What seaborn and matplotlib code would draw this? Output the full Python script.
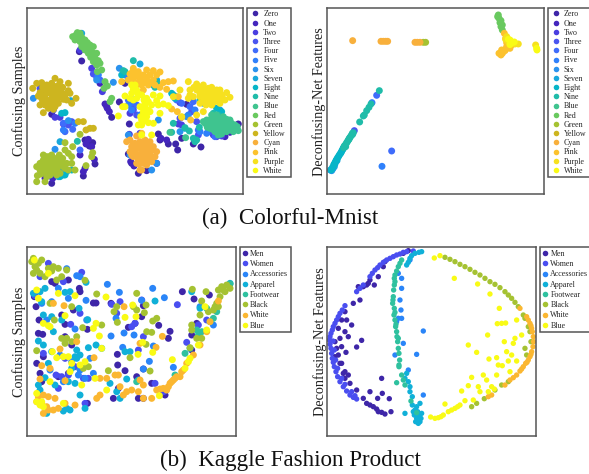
import pandas as pd
import matplotlib
matplotlib.use('Agg')
import matplotlib.pyplot as plt
import seaborn as sns

sns.set_style('white')
plt.rcParams['font.family'] = ['Liberation Serif', 'DejaVu Serif']

# label names
mnist_labels = ['Zero', 'One', 'Two', 'Three', 'Four', 'Five', 'Six', 'Seven', 'Eight', 'Nine',
                'Blue', 'Red', 'Green', 'Yellow', 'Cyan', 'Pink', 'Purple', 'White']
fashion_labels = ['Men', 'Women', 'Accessories', 'Apparel', 'Footwear', 'Black', 'White', 'Blue']

mnist_colors = ['#3e26a8', '#4426bd', '#4a3fe0', '#4a55f0', '#3f6cfb', '#2f80fb', '#2a92ee', '#18a8dc',
                '#06b5c8', '#1fbca9', '#3fc48f', '#69c95f', '#a5c232', '#cdb51f', '#f8b03c', '#fcc22e',
                '#f6e11f', '#f9fb15']
fashion_colors = ['#3e26a8', '#4a4ef0', '#2a85f8', '#10b0d8', '#2fc19f', '#a5c232', '#fbb731', '#f9fb15']

# values, one list per label
# panel a, confusing samples
a1_zero = [(155,343),(245,183),(238,155),(320,320),(335,352),(358,306),(375,250),(388,372),(395,490),(415,520),
           (440,512),(385,462),(480,420),(505,432),(533,450),(527,432),(545,415),(580,432),(603,441),(715,372),
           (560,313),(475,402),(155,550),(250,528),(285,492),(272,430),(262,425),(268,438),(278,428),(255,420)]
a1_one = [(265,418),(275,440),(258,432),(283,478),(250,515),(255,505),(315,312),(322,325),(328,335),(392,485),
          (402,498),(470,490),(483,415),(500,420),(675,410),(690,397),(135,535),(158,535),(240,465),(300,250)]
a1_two = [(165,352),(180,352),(190,372),(240,150),(275,205),(307,275),(545,375),(535,372),(420,400),(640,405),
          (650,410),(665,408),(540,308),(388,403),(390,340),(395,320),(130,262)]
a1_three = [(120,265),(130,280),(215,365),(205,375),(160,330),(280,222),(575,335),(590,365),(598,395),(595,405),
            (400,330),(410,345),(650,400),(630,395),(540,355)]
a1_four = [(190,370),(218,388),(195,395),(240,450),(290,232),(300,240),(570,320),(580,305),(595,390),(545,310),
           (530,300),(385,300),(395,310),(410,315),(645,410),(660,405),(625,385)]
a1_five = [(225,370),(190,390),(295,225),(565,345),(585,330),(385,315),(395,330),(420,345),(620,400),(655,395),
           (600,395),(385,240),(375,225)]
a1_six = [(100,295),(165,448),(205,362),(340,247),(358,205),(385,405),(540,395),(290,240),(475,360),(455,510),
          (390,465),(610,310),(470,490),(560,350)]
a1_seven = [(212,302),(180,425),(420,192),(245,100),(190,525),(175,530),(165,520),(185,510),(200,515),(555,385),
            (610,300),(660,330),(470,240),(520,285),(400,300)]
a1_eight = [(195,338),(185,340),(365,225),(460,255),(465,250),(595,265),(180,530),(195,525),(170,515),(150,525),
            (600,300),(650,325),(665,335),(515,280),(525,295),(215,510)]
a1_nine = [(400,182),(370,212),(232,424),(375,215),(520,370),(555,383),(568,393),(598,382),(590,420),(585,425),
           (465,262),(470,248),(640,340),(655,345),(527,290),(580,415),(515,397)]
a1_blue = [(620,360),(635,355),(650,345),(670,350),(690,360),(705,375),(715,392),(700,385),(685,370),(660,360),
           (640,370),(625,375),(615,370),(630,385),(645,380),(660,375),(675,385),(690,380),(700,395),(680,395),
           (660,390),(645,395),(665,402),(650,362),(635,345),(610,365),(670,365),(712,380),(557,413),(510,397),
           (628,365),(642,362),(655,352),(680,358),(695,370),(652,372),(668,378),(682,378),(638,388),(652,388),
           (622,382),(672,392),(690,390),(655,405)]
a1_red = [(218,110),(228,105),(240,100),(235,115),(245,112),(225,120),(240,125),(255,120),(250,135),(262,128),
          (270,135),(245,140),(255,150),(270,145),(280,140),(265,160),(278,158),(290,160),(272,172),(285,175),
          (295,182),(280,185),(290,195),(300,190),(292,215),(305,210),(315,245),(322,258),(312,265),(335,295),
          (330,305),(240,108),(232,98),(250,128),(260,140),(275,165)]
a1_green = [(195,428),(218,440),(195,450),(205,460),(215,470),(278,458),(275,470),(258,497),(240,403),(112,527),
            (110,545),(135,545),(120,490),(130,480),(140,470),(155,465),(170,475),(185,480),(200,490),(215,490),
            (225,510),(205,510),(190,500),(175,495),(160,490),(145,490),(130,500),(120,510),(135,515),(150,510),
            (165,510),(180,520),(150,525),(140,530),(160,480),(178,465),(130,465),(145,505),(170,525),(110,500),
            (125,495),(138,485),(152,478),(168,488),(182,492),(195,505),(158,500),(142,498),(128,508),(172,505),
            (155,518),(122,522),(188,475),(148,470)]
a1_yellow = [(235,365),(250,365),(258,390),(270,385),(280,385),(228,295),(215,310),(130,338),(98,265),(110,250),
             (125,248),(140,255),(155,250),(165,235),(180,245),(205,250),(205,272),(195,285),(180,270),(165,265),
             (150,265),(135,270),(120,278),(135,285),(150,280),(165,285),(180,290),(170,300),(155,295),(140,300),
             (125,295),(120,315),(135,315),(150,315),(165,320),(145,325),(200,300),(210,280),(160,310),(115,288),
             (142,262),(158,258),(172,258),(188,262),(128,262),(142,278),(158,272),(172,278),(188,280),(128,305),
             (142,308),(158,302),(175,310),(190,298),(160,328)]
a1_cyan = [(390,420),(405,430),(420,425),(435,420),(450,425),(460,440),(470,455),(465,470),(450,465),(435,450),
           (420,445),(405,450),(395,440),(390,455),(400,470),(415,465),(430,470),(445,480),(430,490),(415,480),
           (440,495),(425,510),(410,490),(455,485),(445,440),(420,510),(430,460),(410,408),(395,465),(380,425),
           (412,438),(428,435),(442,430),(455,452),(442,458),(425,448),(408,460),(422,475),(438,472),(455,472),
           (400,432),(432,480),(418,492)]
a1_pink = [(400,205),(415,215),(440,210),(460,212),(480,216),(470,225),(450,225),(430,225),(410,228),(390,222),
           (385,240),(400,240),(420,240),(440,240),(460,240),(445,255),(425,255),(410,255),(465,255),(430,270),
           (365,245),(505,245),(520,243),(480,262),(500,268),(490,248),(535,290),(515,327),(532,335),(545,352),
           (572,360),(425,400),(398,215),(420,232),(440,232),(430,245),(415,248),(450,248),(395,232),(405,222)]
a1_purple = [(565,245),(590,252),(610,255),(635,262),(650,270),(665,285),(680,278),(690,292),(675,300),(655,295),
             (640,285),(625,280),(605,272),(590,270),(570,270),(565,295),(580,290),(600,290),(615,295),(630,300),
             (645,305),(660,310),(635,315),(618,315),(600,310),(610,335),(590,345),(545,350),(520,290),(540,270),
             (650,288),(625,265),(600,282),(570,285),(660,270),(582,262),(598,262),(615,268),(632,272),(642,275),
             (655,282),(608,285),(622,290),(638,295),(650,300),(610,305),(625,308),(668,295)]
a1_white = [(355,348),(368,320),(375,288),(395,255),(410,270),(395,280),(410,295),(425,285),(440,295),(460,285),
            (480,288),(490,312),(475,315),(455,315),(435,315),(420,320),(430,335),(450,335),(480,340),(440,350),
            (425,360),(415,375),(425,375),(445,368),(460,370),(455,405),(425,405),(375,320),(400,300),(435,310),
            (390,295),(470,302),(405,255),(445,330),(430,345),(505,317),(400,268),(415,282),(432,300),(445,305),
            (435,325),(422,350),(432,362),(440,340)]

# panel a, deconfusing features
a2_zero = []
a2_one = []
a2_two = []
a2_three = [(178,392)]
a2_four = [(245,286),(290,453),(145,445)]
a2_five = [(261,499),(231,308)]
a2_six = [(110,512),(106,510),(114,505)]
a2_seven = [(112,508),(118,500),(120,492),(126,482)]
a2_eight = [(116,495),(120,488),(124,480),(128,473),(133,465),(138,458),(142,450),(112,503),(108,510),(146,443),
            (118,492),(122,484),(126,477),(131,469),(136,461),(140,454),(144,447)]
a2_nine = [(253,272),(228,312),(222,322),(215,332),(208,345),(205,348),(194,366),(175,398),(170,405),(165,412),
           (160,420),(155,428),(150,436),(146,443),(152,440),(172,400),(162,418),(168,408),(158,424),(148,438),
           (173,403),(163,415),(153,432)]
a2_blue = []
a2_red = [(610,45),(612,55),(615,68),(618,80),(622,90),(608,50),(618,62),(622,75)]
a2_green = [(385,127),(392,127)]
a2_yellow = []
a2_cyan = [(173,122),(258,124),(265,124),(272,124),(278,124),(360,127),(367,127),(375,127)]
a2_pink = [(618,165),(625,155),(632,148),(640,142),(650,135),(628,100),(632,115),(635,128),(640,135),(612,160),
           (622,160),(630,152),(620,150),(635,140),(645,145)]
a2_purple = [(635,110),(640,125),(650,130),(660,132),(670,132),(722,135),(632,118)]
a2_white = [(645,120),(652,128),(725,145),(726,150),(640,118),(645,134),(658,126)]

# panel b, confusing samples
b1_men = [(103,185),(108,215),(117,255),(115,295),(128,298),(110,385),(130,365),(155,140),(165,145),(205,135),
          (238,160),(240,170),(185,240),(195,268),(220,225),(262,283),(280,204),(288,204),(333,205),(430,212),
          (425,245),(385,277),(405,265),(476,271),(510,289),(505,310),(352,358),(353,390),(375,407),(410,425),
          (430,402),(415,490),(430,490),(455,445),(495,480),(547,170),(582,192),(628,180),(590,265),(575,300),
          (575,345),(215,330),(195,305),(125,440),(120,415),(262,505),(340,490),(355,460),(175,425),(205,415)]
b1_women = [(245,112),(190,140),(240,235),(212,268),(335,208),(360,200),(425,195),(532,209),(405,265),(395,275),
            (350,235),(560,322),(415,345),(430,305),(130,355),(185,425),(175,460),(255,505),(250,430),(265,430),
            (225,395),(195,370),(168,420),(205,420),(120,125),(145,85),(465,445),(490,470),(620,255),(105,182),(595,270)]
b1_accessories = [(322,148),(200,101),(230,122),(240,125),(205,190),(258,196),(358,172),(458,160),(493,188),(425,196),
                  (348,250),(333,303),(372,294),(402,300),(368,337),(448,379),(430,402),(280,415),(255,430),(270,370),
                  (240,405),(215,380),(150,405),(180,360),(125,205),(155,200),(225,282),(520,397),(460,333),(600,215),
                  (640,270),(175,160),(140,255),(260,255),(235,420),(190,440)]
b1_apparel = [(120,170),(135,160),(125,200),(237,220),(130,240),(160,290),(115,318),(130,330),(155,350),(145,385),
              (115,450),(135,428),(230,370),(240,360),(265,338),(288,330),(305,340),(375,350),(390,350),(380,432),
              (330,445),(350,470),(360,490),(415,435),(465,198),(600,220),(255,520),(210,525),(190,528),(140,535),
              (205,440),(225,445),(240,480),(120,465),(165,450),(263,254),(155,245),(185,255),(195,172),(258,142),
              (230,345),(575,170),(210,170),(100,175),(690,145),(200,520),(225,365),(215,400)]
b1_footwear = [(590,285),(605,290),(595,300),(410,440),(630,260),(640,250),(525,420),(555,355),(620,220),(570,340),
               (650,230),(690,147)]
b1_black = [(100,70),(95,80),(105,95),(115,85),(125,75),(100,115),(120,115),(145,100),(160,95),(175,100),
            (185,125),(170,135),(200,105),(655,165),(665,155),(680,150),(690,160),(675,170),(660,185),(650,205),
            (640,225),(655,215),(625,230),(605,198),(618,170),(577,163),(600,240),(185,310),(200,310),(215,320),
            (195,325),(290,177),(410,175),(350,215),(342,230),(352,262),(410,225),(400,215),(438,210),(433,233),
            (458,258),(470,250),(440,290),(455,292),(438,328),(390,368),(325,407),(450,408),(110,347),(255,136),
            (215,215),(150,205),(265,395),(250,400),(305,270),(248,278),(230,305),(163,255),(575,285),(575,270),
            (570,338),(590,310),(605,310),(670,165),(645,215),(110,105),(135,125),(155,108)]
b1_white = [(115,485),(130,480),(145,485),(165,490),(125,505),(140,515),(110,500),(130,535),(145,525),(160,525),
            (175,520),(195,505),(225,510),(290,490),(300,480),(320,430),(345,420),(355,420),(360,455),(380,470),
            (395,465),(420,435),(430,450),(415,470),(430,490),(455,490),(470,465),(490,460),(510,445),(520,435),
            (530,425),(545,410),(560,385),(580,360),(600,330),(620,290),(630,260),(655,198),(192,212),(160,205),
            (420,325),(468,337),(487,304),(372,215),(230,320),(180,342),(150,400),(125,392),(120,432),(282,368),
            (195,437),(370,480),(300,430),(505,455),(515,440),(500,465),(525,430),(540,425),(550,405),(480,462)]
b1_blue = [(103,75),(145,115),(110,165),(115,190),(225,182),(318,186),(398,210),(375,247),(408,245),(288,265),
           (298,303),(305,340),(145,272),(130,265),(195,242),(157,350),(170,368),(205,365),(215,385),(255,380),
           (240,390),(190,365),(210,410),(150,440),(285,430),(320,465),(414,358),(458,352),(517,374),(428,322),
           (190,505),(120,510),(125,500),(110,500),(245,450),(110,475),(478,482),(565,380),(555,400),(595,330),
           (620,285),(615,215),(175,175),(150,275),(280,280),(130,515),(570,370)]

# panel b, deconfusing features
b2_men = [(340,47),(325,55),(270,80),(265,95),(250,125),(238,150),(220,145),(205,155),(190,155),(195,195),
          (175,205),(150,230),(140,255),(170,270),(155,255),(130,280),(150,290),(135,310),(160,305),(200,316),
          (185,336),(153,352),(125,340),(120,365),(140,385),(150,410),(160,420),(165,445),(185,465),(260,430),
          (225,470),(262,475),(248,490),(283,491),(205,490),(215,505),(235,515),(250,530),(270,537),(288,530),
          (150,430),(145,415),(130,360),(120,320),(215,150),(225,135),(140,335),(135,385),(225,510),(245,522),(260,532)]
b2_women = [(355,48),(335,50),(315,57),(295,65),(275,75),(255,90),(240,105),(225,125),(205,150),(185,170),
            (150,212),(135,235),(125,255),(115,275),(108,295),(103,315),(108,340),(112,370),(118,395),(128,425),
            (145,455),(165,480),(185,492),(285,70),(265,82),(232,115),(130,245),(120,265),(105,305),(105,328),
            (110,355),(115,382),(123,410),(135,440),(155,468),(175,487),(305,60),(325,52),(142,225),(112,285),
            (114,318),(118,345),(122,375),(128,400),(140,430),(150,448),(170,470),(180,482),(248,98),(195,160)]
b2_accessories = [(385,288),(310,115),(320,160),(315,195),(318,225),(305,260),(325,325),(365,358),(340,405),(385,480),
                  (300,360),(345,75),(320,130),(310,250),(320,250)]
b2_apparel = [(380,50),(360,55),(345,70),(335,90),(330,535),(355,530),(375,505),(365,515),(372,540),(375,560),
              (365,550),(370,565),(345,470),(340,440),(330,430),(352,510),(360,525),(378,550),(362,560),(350,62),
              (372,52),(340,82),(345,455),(335,415),(352,485),(368,530),(380,535),(358,540)]
b2_footwear = [(320,75),(310,95),(300,120),(298,150),(295,185),(298,220),(300,255),(305,290),(308,320),(312,355),
               (312,390),(320,420),(330,450),(305,443),(348,498),(365,533),(300,140),(296,165),(293,205),(297,240),
               (302,275),(306,305),(310,340),(312,395),(325,435),(315,85),(305,108),(298,130),(294,195),(300,232),
               (303,268),(310,310),(314,375)]
b2_black = [(450,67),(465,73),(480,80),(495,88),(510,95),(525,103),(540,112),(555,120),(570,130),(585,140),
            (600,148),(615,158),(630,170),(640,180),(650,190),(660,202),(670,215),(685,240),(690,250),(700,275),
            (705,290),(708,320),(695,360),(640,440),(620,450),(600,465),(568,491),(545,505),(530,515),(690,340)]
b2_white = [(675,220),(695,245),(700,255),(705,265),(710,280),(712,290),(715,305),(716,320),(714,335),(710,350),
            (705,365),(700,375),(692,385),(685,395),(675,408),(665,420),(655,428),(645,435),(630,450),(590,480),(580,485),
            (708,272),(708,358),(696,382),(680,402)]
b2_blue = [(418,69),(435,62),(478,130),(548,147),(585,177),(613,220),(607,266),(620,265),(632,264),(665,255),
           (660,310),(680,300),(578,300),(520,330),(545,352),(628,320),(655,325),(635,350),(650,360),(582,372),
           (605,368),(610,390),(622,392),(640,378),(665,378),(645,410),(565,420),(530,427),(575,435),(605,420),
           (520,452),(550,455),(500,468),(555,470),(590,455),(450,507),(407,546),(420,550),(430,548),(445,540),
           (460,530),(480,520),(495,510),(510,497),(535,495),(580,470),(598,462),(470,525),(488,515),(438,545)]

a1_series = [a1_zero, a1_one, a1_two, a1_three, a1_four, a1_five, a1_six, a1_seven, a1_eight, a1_nine,
             a1_blue, a1_red, a1_green, a1_yellow, a1_cyan, a1_pink, a1_purple, a1_white]
a2_series = [a2_zero, a2_one, a2_two, a2_three, a2_four, a2_five, a2_six, a2_seven, a2_eight, a2_nine,
             a2_blue, a2_red, a2_green, a2_yellow, a2_cyan, a2_pink, a2_purple, a2_white]
b1_series = [b1_men, b1_women, b1_accessories, b1_apparel, b1_footwear, b1_black, b1_white, b1_blue]
b2_series = [b2_men, b2_women, b2_accessories, b2_apparel, b2_footwear, b2_black, b2_white, b2_blue]

W, H = 589, 474
fig = plt.figure(figsize=(W / 100, H / 100), dpi=100)

# legend spacing differs between the two label sets
mnist_legend = dict(borderpad=0.25, labelspacing=0.15, handlelength=1.57, handletextpad=0.21)
fashion_legend = dict(borderpad=0.35, labelspacing=0.28, handlelength=0.5, handletextpad=0.43)


def draw_panel(series, labels, colors, frame, xlim, ylim, legend_box, legend_opts, ylabel, size):
    # frame is left, top, right, bottom in pixels of the figure
    left, top, right, bottom = frame
    ax = fig.add_axes([left / W, 1 - bottom / H, (right - left) / W, (bottom - top) / H])
    rows = [(x, y, lab) for lab, pts in zip(labels, series) for x, y in pts]
    df = pd.DataFrame(rows, columns=['x', 'y', 'label'])
    sns.scatterplot(data=df, x='x', y='y', hue='label', hue_order=labels, palette=colors,
                    s=size, linewidth=0, ax=ax, legend='full')
    ax.set_xlim(*xlim)
    ax.set_ylim(*ylim)
    ax.set_xticks([])
    ax.set_yticks([])
    ax.set_xlabel('')
    ax.set_ylabel(ylabel, fontsize=10.2, labelpad=0.5, color='#222222')
    for sp in ax.spines.values():
        sp.set_color('#555555')
        sp.set_linewidth(1.1)
    lx, ly, lw = legend_box
    sns.move_legend(ax, 'upper left', bbox_to_anchor=(lx / W, 1 - ly / H, lw / W, 0), mode='expand',
                    bbox_transform=fig.transFigure, title=None, fontsize=5.8, frameon=True, fancybox=False,
                    edgecolor='#555555', framealpha=1, borderaxespad=0, markerscale=18 / size ** 0.5 / 4.5,
                    **legend_opts)
    ax.get_legend().get_frame().set_linewidth(1.1)
    return ax


draw_panel(a1_series, mnist_labels, mnist_colors, (26.7, 8.3, 243.3, 194), (80, 730), (582, 25),
           (247, 8.3, 43.7), mnist_legend, 'Confusing Samples', 25)
draw_panel(a2_series, mnist_labels, mnist_colors, (327, 8.3, 544.3, 194), (96, 748), (582, 25),
           (547.5, 8.3, 43.7), mnist_legend, 'Deconfusing-Net Features', 25)
draw_panel(b1_series, fashion_labels, fashion_colors, (26.7, 247, 235.7, 435.7), (80, 707), (602, 36),
           (239.7, 247, 51), fashion_legend, 'Confusing Samples', 25)
draw_panel(b2_series, fashion_labels, fashion_colors, (327.3, 247, 536.3, 435.7), (97, 724), (602, 36),
           (540, 247, 51), fashion_legend, 'Deconfusing-Net Features', 15)

# captions
fig.text(290 / W, 1 - 218 / H, '(a)  Colorful-Mnist', ha='center', va='center', fontsize=16.6, color='#111111')
fig.text(290 / W, 1 - 460 / H, '(b)  Kaggle Fashion Product', ha='center', va='center', fontsize=16.6, color='#111111')

plt.savefig('out.png', dpi=100)
